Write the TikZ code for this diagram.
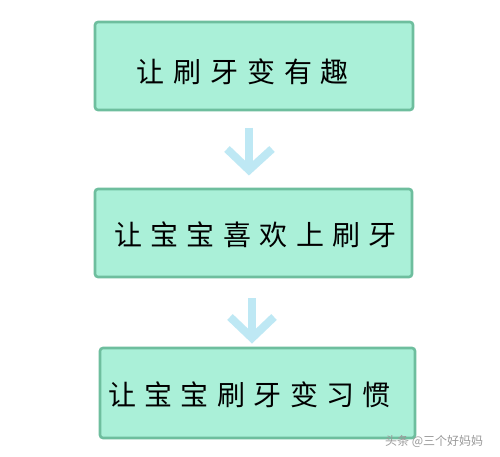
\documentclass[tikz,border=0pt]{standalone}
\usepackage{fontspec}
\newfontfamily\cjk{Noto Sans CJK SC}
\definecolor{boxfill}{HTML}{AAF0D8}
\definecolor{boxline}{HTML}{6EBE9E}
\definecolor{arrowc}{HTML}{BEE8F4}
\definecolor{wm}{HTML}{9A9A9A}
\begin{document}
\begin{tikzpicture}[x=1pt,y=-1pt,
  stepbox/.style={draw=boxline,fill=boxfill,line width=2.6pt,rounded corners=3pt},
  label/.style={anchor=west,inner sep=0pt,font=\cjk\fontsize{28}{30}\selectfont},
  arr/.style={draw=arrowc,line width=8pt,line cap=butt,line join=miter}]
\useasboundingbox (0,0) rectangle (500,457);
\fill[white] (0,0) rectangle (500,457);
\draw[stepbox] (95,22) rectangle (413,110);
\draw[stepbox] (95,189) rectangle (412,277);
\draw[stepbox] (100,348) rectangle (415,438);
\node[label] (t1) at (136,72) {\addfontfeatures{LetterSpace=32}让刷牙变有趣};
\node[label] (t2) at (114,235) {\addfontfeatures{LetterSpace=30}让宝宝喜欢上刷牙};
\node[label] (t3) at (108,395) {\addfontfeatures{LetterSpace=30}让宝宝刷牙变习惯};
\coordinate (a1s) at (249,128);
\coordinate (a1t) at (249,170);
\coordinate (a1l) at (227,149);
\coordinate (a1r) at (272,149);
\draw[arr] (a1s) -- (a1t);
\draw[arr] (a1l) -- (a1t) -- (a1r);
\coordinate (a2s) at (252,298);
\coordinate (a2t) at (252,338);
\coordinate (a2l) at (230,317);
\coordinate (a2r) at (274,317);
\draw[arr] (a2s) -- (a2t);
\draw[arr] (a2l) -- (a2t) -- (a2r);
\node[anchor=west,inner sep=0pt,font=\cjk\fontsize{12}{14}\selectfont,text=wm] (wm) at (385,441) {头条 @三个好妈妈};
\end{tikzpicture}
\end{document}
